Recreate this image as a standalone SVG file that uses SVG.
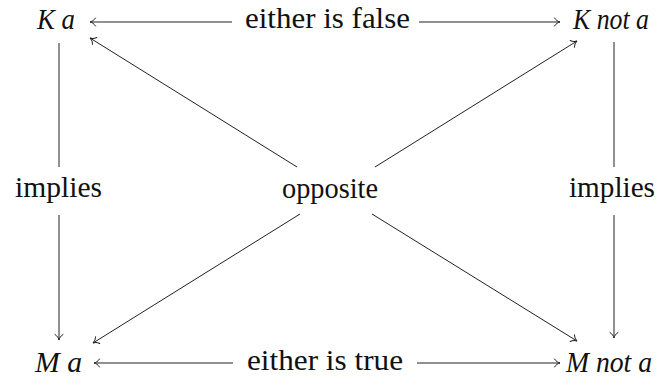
<svg xmlns="http://www.w3.org/2000/svg" width="658" height="381" viewBox="0 0 658 381">
<style>
text{font-family:"Liberation Serif","Times New Roman",serif;font-size:30px;fill:#111}
.it{font-style:italic}
.c line{stroke:#222;stroke-width:1;fill:none}
.ar{marker-end:url(#to)}
</style>
<defs>
<marker id="to" markerUnits="userSpaceOnUse" viewBox="-7 -5 8 10" markerWidth="8" markerHeight="10" refX="0" refY="0" orient="auto" overflow="visible">
<path d="M-5.5,-4 C-4,-1.6 -1.8,-0.4 0,0 C-1.8,0.4 -4,1.6 -5.5,4" fill="none" stroke="#222" stroke-width="1" stroke-linecap="round"/>
</marker>
</defs>
<g id="nodeKa"><text class="it" x="37" y="29" textLength="38" lengthAdjust="spacingAndGlyphs">K a</text></g>
<g id="nodeKnota"><text class="it" x="573" y="29" textLength="76" lengthAdjust="spacingAndGlyphs">K not a</text></g>
<g id="nodeMa"><text class="it" x="35" y="372" textLength="47" lengthAdjust="spacingAndGlyphs">M a</text></g>
<g id="nodeMnota"><text class="it" x="566" y="372" textLength="86" lengthAdjust="spacingAndGlyphs">M not a</text></g>
<g id="labelFalse"><text x="245" y="28" textLength="165" lengthAdjust="spacingAndGlyphs">either is false</text></g>
<g id="labelTrue"><text x="247" y="370" textLength="156" lengthAdjust="spacingAndGlyphs">either is true</text></g>
<g id="labelImpliesL"><text x="15" y="197" textLength="87" lengthAdjust="spacingAndGlyphs">implies</text></g>
<g id="labelImpliesR"><text x="569" y="197" textLength="86" lengthAdjust="spacingAndGlyphs">implies</text></g>
<g id="labelOpposite"><text x="282" y="198" textLength="96" lengthAdjust="spacingAndGlyphs">opposite</text></g>
<g id="connectors" class="c">
<line class="ar" x1="232" y1="22" x2="90" y2="22"/>
<line class="ar" x1="419" y1="22" x2="560" y2="22"/>
<line class="ar" x1="233" y1="363" x2="94" y2="363"/>
<line class="ar" x1="417" y1="363" x2="560" y2="363"/>
<line x1="59" y1="43" x2="59" y2="167"/>
<line class="ar" x1="59" y1="215" x2="59" y2="340"/>
<line x1="614" y1="42" x2="614" y2="167"/>
<line class="ar" x1="614" y1="215" x2="614" y2="338"/>
<line class="ar" x1="297" y1="167" x2="90" y2="38"/>
<line class="ar" x1="375" y1="167" x2="577" y2="41"/>
<line class="ar" x1="300" y1="214" x2="93" y2="343"/>
<line class="ar" x1="372" y1="214" x2="577" y2="341"/>
</g>
</svg>
